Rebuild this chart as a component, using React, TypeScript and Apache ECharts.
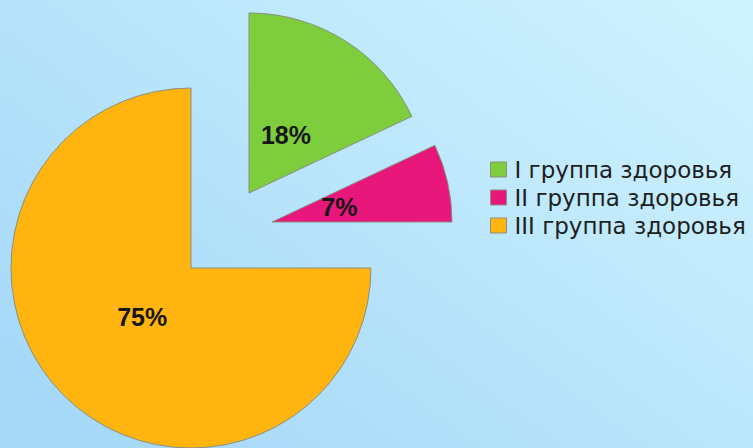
import React, { useEffect, useRef } from "react";
import * as echarts from "echarts";

const categories = ["I группа здоровья", "II группа здоровья", "III группа здоровья"];
const values = [18, 7, 75];
const colors = ["#7dcd3d", "#e8177b", "#ffb40f"];

// per-slice explode centers (layout)
const centers: [number, number][] = [
  [249, 193],
  [272, 222],
  [191, 268],
];

export default function App() {
  const ref = useRef<HTMLDivElement>(null);
  useEffect(() => {
    if (!ref.current) return;
    const chart = echarts.init(ref.current, undefined, { renderer: "svg" });
    const series: any[] = [];
    categories.forEach((_, i) => {
      series.push({
        type: "pie",
        center: centers[i],
        radius: [0, 180],
        startAngle: 90,
        clockwise: true,
        silent: true,
        avoidLabelOverlap: false,
        label: { show: false },
        labelLine: { show: false },
        emphasis: { disabled: true },
        data: categories.map((name, j) => ({
          name,
          value: values[j],
          itemStyle:
            j === i
              ? { color: colors[j], borderColor: "#8a8f80", borderWidth: 1 }
              : { color: "transparent", borderWidth: 0 },
        })),
      });
    });
    categories.forEach((_, i) => {
      series.push({
        type: "pie",
        center: centers[i],
        radius: [0, 132],
        startAngle: 90,
        clockwise: true,
        silent: true,
        avoidLabelOverlap: false,
        labelLine: { show: false },
        emphasis: { disabled: true },
        z: 5,
        data: categories.map((name, j) => ({
          name,
          value: values[j],
          itemStyle: { color: "transparent", borderWidth: 0 },
          label: {
            show: j === i,
            position: "inside",
            formatter: "{d}%",
            fontFamily: "Liberation Sans, Arial, sans-serif",
            fontWeight: "bold",
            fontSize: 25,
            color: "#161616",
          },
        })),
      });
    });
    chart.setOption({
      animation: false,
      backgroundColor: {
        type: "linear",
        x: 0,
        y: 0.8,
        x2: 1,
        y2: 0,
        colorStops: [
          { offset: 0, color: "#a6d8f8" },
          { offset: 1, color: "#d0f4ff" },
        ],
      },
      legend: {
        orient: "vertical",
        left: 485,
        top: 153,
        icon: "rect",
        itemWidth: 16,
        itemHeight: 15,
        itemGap: 5,
        selectedMode: false,
        textStyle: {
          fontFamily: "DejaVu Sans, Verdana, sans-serif",
          fontSize: 23,
          color: "#1e1e1e",
          padding: [0, 0, 0, 3],
          lineHeight: 20,
        },
        data: categories.map((name, j) => ({
          name,
          itemStyle: { color: colors[j], borderColor: "#8a8f80", borderWidth: 1 },
        })),
      },
      series,
    });
    return () => chart.dispose();
  }, []);
  return (
    <div
      ref={ref}
      style={{ position: "absolute", left: 0, top: 0, width: 753, height: 448 }}
    />
  );
}
